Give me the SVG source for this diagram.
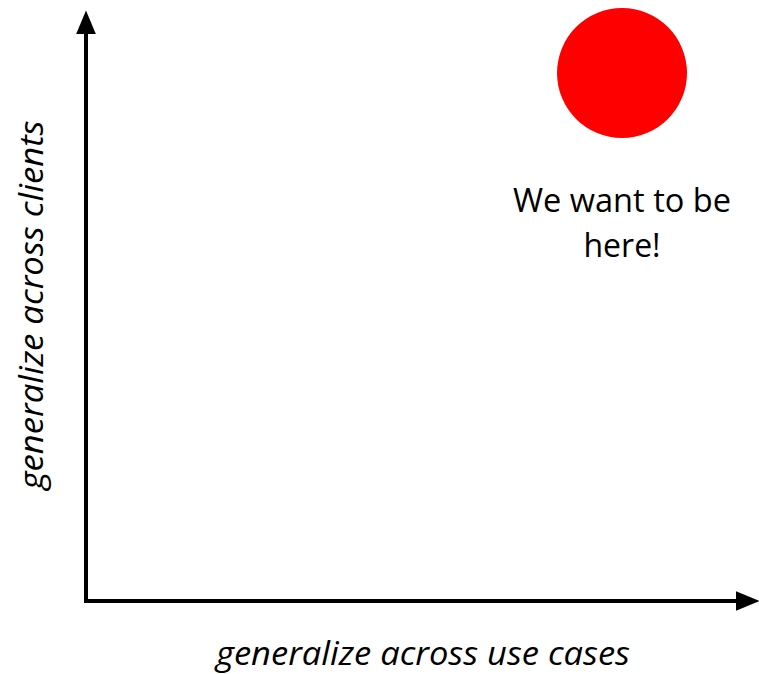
<svg xmlns="http://www.w3.org/2000/svg" width="759" height="674" viewBox="0 0 759 674">
<style>
.lbl{font-family:"Open Sans","Noto Sans","Liberation Sans",sans-serif;fill:#000;text-anchor:middle}
.ax{stroke:#000;stroke-width:4;fill:none}
</style>
<defs>
<marker id="ah" markerWidth="6" markerHeight="5" refX="0.1" refY="2.5" orient="auto" markerUnits="strokeWidth" viewBox="0 0 6 5">
<path d="M0,0 L6,2.5 L0,5 Z" fill="#000"/>
</marker>
</defs>
<rect width="759" height="674" fill="#fff"/>
<g id="connectors">
<path class="ax" d="M86,603 L86,34" marker-end="url(#ah)"/>
<path class="ax" d="M84,601 L736,601" marker-end="url(#ah)"/>
</g>
<g id="target">
<circle cx="622" cy="73" r="65" fill="#ff0000"/>
<text class="lbl" x="622" y="212" font-size="32" textLength="218" lengthAdjust="spacingAndGlyphs">We want to be</text>
<text class="lbl" x="622" y="257" font-size="32">here!</text>
</g>
<g id="x-label">
<text class="lbl" x="423" y="665" font-size="33" font-style="italic" textLength="414" lengthAdjust="spacingAndGlyphs">generalize across use cases</text>
</g>
<g id="y-label">
<text class="lbl" x="0" y="0" font-size="33" font-style="italic" textLength="369" lengthAdjust="spacingAndGlyphs" transform="translate(43,305) rotate(-90)">generalize across clients</text>
</g>
</svg>
